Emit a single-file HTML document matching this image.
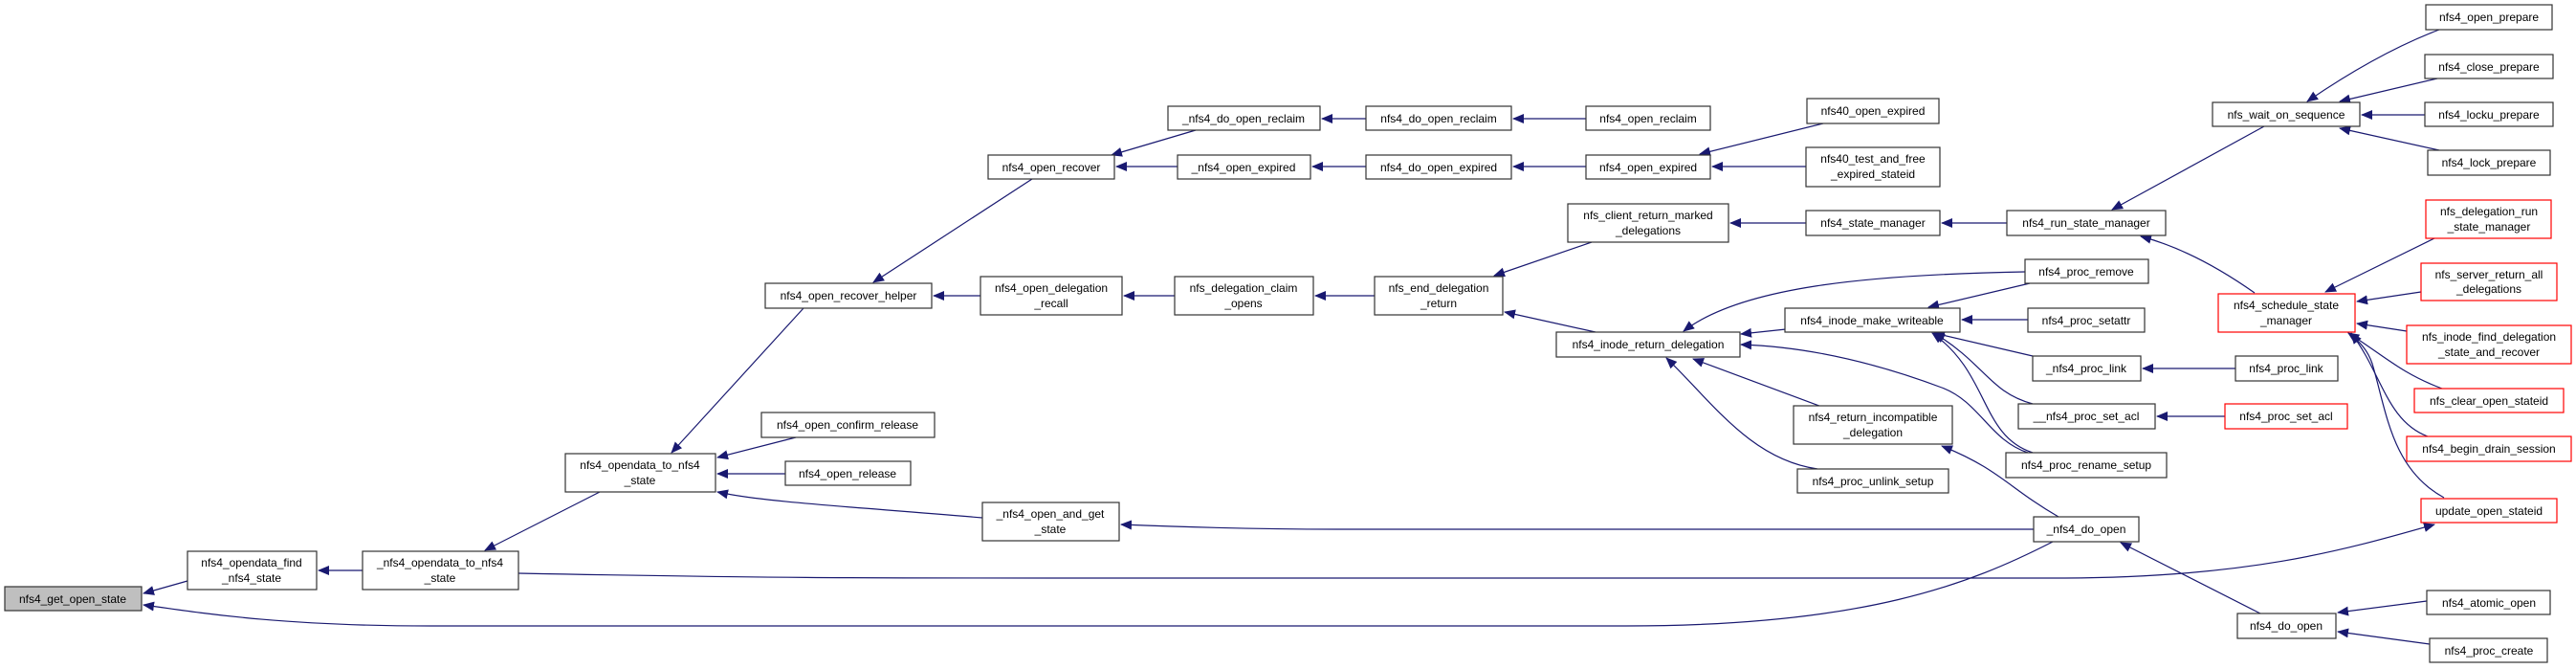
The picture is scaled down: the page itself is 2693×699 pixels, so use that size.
<!DOCTYPE html>
<html><head><meta charset="utf-8"><style>
html,body{margin:0;padding:0;background:#fff;}
svg{display:block;}
text{font-family:"Liberation Sans",sans-serif;font-size:12px;fill:#000;text-anchor:middle;}
.n{fill:#fff;stroke:#333;stroke-width:1.2;}
.r{fill:#fff;stroke:#f00;stroke-width:1.2;}
.g{fill:#bfbfbf;stroke:#333;stroke-width:1.2;}
.e{fill:none;stroke:#191970;stroke-width:1.2;}
</style></head><body>
<svg width="2693" height="699" viewBox="0 0 2693 699" xmlns="http://www.w3.org/2000/svg">
<defs><marker id="a" markerUnits="userSpaceOnUse" markerWidth="12" markerHeight="10" refX="11" refY="5" orient="auto"><path d="M0,0 L12,5 L0,10 z" fill="#191970"/></marker></defs>
<g marker-end="url(#a)">
<path class="e" d="M196,607 L150,620"/>
<path class="e" d="M2146,566 C2060,610 1950,654 1700,654 L450,654 C300,654 220,642 150,632"/>
<path class="e" d="M379,596 L333,596"/>
<path class="e" d="M627,514 L507,575"/>
<path class="e" d="M542,599 C800,604 900,604 1100,604 L2150,604 C2350,604 2450,575 2545,548"/>
<path class="e" d="M840,322 L702,473"/>
<path class="e" d="M832,457 L750,478"/>
<path class="e" d="M821,495 L750,495"/>
<path class="e" d="M1027,541 C900,530 800,525 750,514"/>
<path class="e" d="M2126,553 L1400,553 C1300,553 1220,550 1172,548"/>
<path class="e" d="M1079,187 L913,295"/>
<path class="e" d="M1025,309 L976,309"/>
<path class="e" d="M1228,309 L1175,309"/>
<path class="e" d="M1437,309 L1375,309"/>
<path class="e" d="M1664,253 L1562,288"/>
<path class="e" d="M1668,347 L1573,326"/>
<path class="e" d="M1250,136 L1162,162"/>
<path class="e" d="M1231,174 L1167,174"/>
<path class="e" d="M1428,124 L1382,124"/>
<path class="e" d="M1658,124 L1582,124"/>
<path class="e" d="M1428,174 L1372,174"/>
<path class="e" d="M1658,174 L1582,174"/>
<path class="e" d="M1906,129 L1777,161"/>
<path class="e" d="M1888,174 L1790,174"/>
<path class="e" d="M1888,233 L1809,233"/>
<path class="e" d="M2098,233 L2030,233"/>
<path class="e" d="M2367,132 L2208,219"/>
<path class="e" d="M2357,306 C2320,280 2280,258 2238,247"/>
<path class="e" d="M2550,31 C2500,50 2450,80 2412,106"/>
<path class="e" d="M2548,82 L2446,106"/>
<path class="e" d="M2535,120 L2469,120"/>
<path class="e" d="M2550,157 L2446,134"/>
<path class="e" d="M2545,249 L2431,305"/>
<path class="e" d="M2531,305 L2464,315"/>
<path class="e" d="M2516,346 L2464,338"/>
<path class="e" d="M2553,406 C2510,390 2490,370 2455,348"/>
<path class="e" d="M2538,456 C2495,440 2490,390 2458,348"/>
<path class="e" d="M2555,520 C2500,490 2495,430 2480,380 C2475,365 2465,355 2455,348"/>
<path class="e" d="M2117,284 C1950,287 1820,300 1760,346"/>
<path class="e" d="M1867,344 L1820,349"/>
<path class="e" d="M2120,473 C2080,460 2070,420 2030,405 C1950,375 1880,362 1820,360"/>
<path class="e" d="M1902,424 L1770,375"/>
<path class="e" d="M1900,490 C1830,480 1790,420 1742,374"/>
<path class="e" d="M2122,296 L2016,321"/>
<path class="e" d="M2120,334 L2051,334"/>
<path class="e" d="M2125,372 L2022,348"/>
<path class="e" d="M2125,422 C2080,410 2075,380 2022,348"/>
<path class="e" d="M2125,473 C2070,455 2080,390 2020,348"/>
<path class="e" d="M2337,385 L2240,385"/>
<path class="e" d="M2326,435 L2255,435"/>
<path class="e" d="M2152,540 C2100,510 2090,490 2030,466"/>
<path class="e" d="M2363,641 L2217,567"/>
<path class="e" d="M2537,628 L2444,640"/>
<path class="e" d="M2540,673 L2444,660"/>
</g>
<!-- nodes -->
<rect class="g" x="5" y="613" width="143" height="25"/><text x="76" y="630">nfs4_get_open_state</text>
<rect class="n" x="196" y="576" width="135" height="40"/><text x="263" y="592">nfs4_opendata_find</text><text x="263" y="608">_nfs4_state</text>
<rect class="n" x="379" y="576" width="163" height="40"/><text x="460" y="592">_nfs4_opendata_to_nfs4</text><text x="460" y="608">_state</text>
<rect class="n" x="591" y="474" width="157" height="40"/><text x="669" y="490">nfs4_opendata_to_nfs4</text><text x="669" y="506">_state</text>
<rect class="n" x="800" y="296" width="174" height="26"/><text x="887" y="313">nfs4_open_recover_helper</text>
<rect class="n" x="796" y="431" width="181" height="26"/><text x="886" y="448">nfs4_open_confirm_release</text>
<rect class="n" x="821" y="482" width="131" height="25"/><text x="886" y="499">nfs4_open_release</text>
<rect class="n" x="1027" y="525" width="143" height="40"/><text x="1098" y="541">_nfs4_open_and_get</text><text x="1098" y="557">_state</text>
<rect class="n" x="1033" y="162" width="132" height="25"/><text x="1099" y="179">nfs4_open_recover</text>
<rect class="n" x="1025" y="289" width="148" height="40"/><text x="1099" y="305">nfs4_open_delegation</text><text x="1099" y="321">_recall</text>
<rect class="n" x="1221" y="111" width="159" height="25"/><text x="1300" y="128">_nfs4_do_open_reclaim</text>
<rect class="n" x="1231" y="162" width="139" height="25"/><text x="1300" y="179">_nfs4_open_expired</text>
<rect class="n" x="1228" y="289" width="145" height="40"/><text x="1300" y="305">nfs_delegation_claim</text><text x="1300" y="321">_opens</text>
<rect class="n" x="1428" y="111" width="152" height="25"/><text x="1504" y="128">nfs4_do_open_reclaim</text>
<rect class="n" x="1428" y="162" width="152" height="25"/><text x="1504" y="179">nfs4_do_open_expired</text>
<rect class="n" x="1437" y="289" width="134" height="40"/><text x="1504" y="305">nfs_end_delegation</text><text x="1504" y="321">_return</text>
<rect class="n" x="1658" y="111" width="130" height="25"/><text x="1723" y="128">nfs4_open_reclaim</text>
<rect class="n" x="1658" y="162" width="130" height="25"/><text x="1723" y="179">nfs4_open_expired</text>
<rect class="n" x="1639" y="213" width="168" height="40"/><text x="1723" y="229">nfs_client_return_marked</text><text x="1723" y="245">_delegations</text>
<rect class="n" x="1627" y="347" width="192" height="26"/><text x="1723" y="364">nfs4_inode_return_delegation</text>
<rect class="n" x="1889" y="103" width="138" height="26"/><text x="1958" y="120">nfs40_open_expired</text>
<rect class="n" x="1888" y="154" width="140" height="41"/><text x="1958" y="170">nfs40_test_and_free</text><text x="1958" y="186">_expired_stateid</text>
<rect class="n" x="1888" y="220" width="140" height="26"/><text x="1958" y="237">nfs4_state_manager</text>
<rect class="n" x="1866" y="322" width="183" height="25"/><text x="1957" y="339">nfs4_inode_make_writeable</text>
<rect class="n" x="1875" y="424" width="166" height="40"/><text x="1958" y="440">nfs4_return_incompatible</text><text x="1958" y="456">_delegation</text>
<rect class="n" x="1879" y="490" width="158" height="25"/><text x="1958" y="507">nfs4_proc_unlink_setup</text>
<rect class="n" x="2098" y="220" width="166" height="26"/><text x="2181" y="237">nfs4_run_state_manager</text>
<rect class="n" x="2117" y="271" width="129" height="25"/><text x="2181" y="288">nfs4_proc_remove</text>
<rect class="n" x="2120" y="322" width="122" height="25"/><text x="2181" y="339">nfs4_proc_setattr</text>
<rect class="n" x="2125" y="372" width="113" height="26"/><text x="2181" y="389">_nfs4_proc_link</text>
<rect class="n" x="2110" y="422" width="143" height="26"/><text x="2181" y="439">__nfs4_proc_set_acl</text>
<rect class="n" x="2097" y="473" width="168" height="26"/><text x="2181" y="490">nfs4_proc_rename_setup</text>
<rect class="n" x="2126" y="540" width="110" height="26"/><text x="2181" y="557">_nfs4_do_open</text>
<rect class="n" x="2313" y="107" width="154" height="25"/><text x="2390" y="124">nfs_wait_on_sequence</text>
<rect class="r" x="2319" y="307" width="143" height="40"/><text x="2390" y="323">nfs4_schedule_state</text><text x="2390" y="339">_manager</text>
<rect class="n" x="2337" y="372" width="107" height="26"/><text x="2390" y="389">nfs4_proc_link</text>
<rect class="r" x="2326" y="422" width="128" height="26"/><text x="2390" y="439">nfs4_proc_set_acl</text>
<rect class="n" x="2339" y="641" width="103" height="26"/><text x="2390" y="658">nfs4_do_open</text>
<rect class="n" x="2536" y="5" width="132" height="26"/><text x="2602" y="22">nfs4_open_prepare</text>
<rect class="n" x="2535" y="57" width="134" height="25"/><text x="2602" y="74">nfs4_close_prepare</text>
<rect class="n" x="2535" y="107" width="134" height="25"/><text x="2602" y="124">nfs4_locku_prepare</text>
<rect class="n" x="2538" y="157" width="128" height="26"/><text x="2602" y="174">nfs4_lock_prepare</text>
<rect class="r" x="2536" y="209" width="131" height="40"/><text x="2602" y="225">nfs_delegation_run</text><text x="2602" y="241">_state_manager</text>
<rect class="r" x="2531" y="275" width="142" height="39"/><text x="2602" y="291">nfs_server_return_all</text><text x="2602" y="306">_delegations</text>
<rect class="r" x="2516" y="340" width="172" height="40"/><text x="2602" y="356">nfs_inode_find_delegation</text><text x="2602" y="372">_state_and_recover</text>
<rect class="r" x="2524" y="406" width="156" height="25"/><text x="2602" y="423">nfs_clear_open_stateid</text>
<rect class="r" x="2516" y="456" width="172" height="26"/><text x="2602" y="473">nfs4_begin_drain_session</text>
<rect class="r" x="2531" y="521" width="142" height="25"/><text x="2602" y="538">update_open_stateid</text>
<rect class="n" x="2537" y="617" width="129" height="25"/><text x="2602" y="634">nfs4_atomic_open</text>
<rect class="n" x="2540" y="667" width="123" height="25"/><text x="2602" y="684">nfs4_proc_create</text>
</svg>
</body></html>
